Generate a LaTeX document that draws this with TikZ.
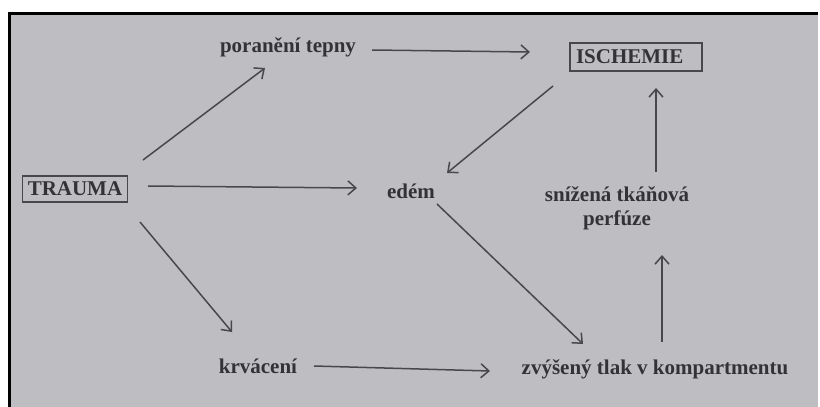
\documentclass[tikz,border=0pt]{standalone}
\usepackage{fontspec}
\setmainfont{Liberation Serif}
\usetikzlibrary{arrows.meta}
\definecolor{paper}{HTML}{BEBDC2}
\definecolor{ink}{HTML}{333336}
\definecolor{lineink}{HTML}{48484C}
\tikzset{
  lbl/.style={font=\fontsize{21}{24}\selectfont\bfseries, text=ink, inner sep=0pt, align=center},
  boxed/.style={lbl, draw=lineink, line width=1.4pt, inner xsep=6pt, inner ysep=6pt},
  arr/.style={draw=lineink, line width=1.5pt, -{Straight Barb[length=8pt,width=14pt,line width=1.5pt]}}
}
\begin{document}
\begin{tikzpicture}[x=1pt,y=-1pt]
\useasboundingbox (0,0) rectangle (820,407);
\fill[white] (0,0) rectangle (820,407);
\fill[paper] (9,13) rectangle (818,407);
\draw[black, line width=3pt] (9,407) -- (9,13) -- (818,13);

\node[boxed, inner xsep=5pt] (trauma) at (75,189) {TRAUMA};
\node[boxed, inner ysep=7pt] (ischemie) at (636,57) {\makebox[120pt][l]{ISCHEMIE}};
\node[lbl] (poraneni) at (288,47) {poranění tepny};
\node[lbl] (edem) at (411,191) {edém};
\node[lbl] (snizena) at (617,208) {snížená tkáňová\\perfúze};
\node[lbl] (krvaceni) at (258,366) {krvácení};
\node[lbl] (zvyseny) at (655,369) {zvýšený tlak v kompartmentu};

\draw[arr] ([shift={(68,-29)}]trauma.center) -- ([shift={(-23,21)}]poraneni.center);
\draw[arr] ([shift={(73,-3)}]trauma.center) -- ([shift={(-54,-3)}]edem.center);
\draw[arr] ([shift={(65,33)}]trauma.center) -- ([shift={(-26,-34)}]krvaceni.center);
\draw[arr] ([shift={(84,3)}]poraneni.center) -- ([shift={(-106,-5)}]ischemie.center);
\draw[arr] ([shift={(-83,29)}]ischemie.center) -- ([shift={(36,-18)}]edem.center);
\draw[arr] ([shift={(26,13)}]edem.center) -- ([shift={(-72,-25)}]zvyseny.center);
\draw[arr] ([shift={(56,0)}]krvaceni.center) -- ([shift={(-165,2)}]zvyseny.center);
\draw[arr] ([shift={(7,-27)}]zvyseny.center) -- ([shift={(45,47)}]snizena.center);
\draw[arr] ([shift={(39,-36)}]snizena.center) -- ([shift={(20,31)}]ischemie.center);
\end{tikzpicture}
\end{document}
